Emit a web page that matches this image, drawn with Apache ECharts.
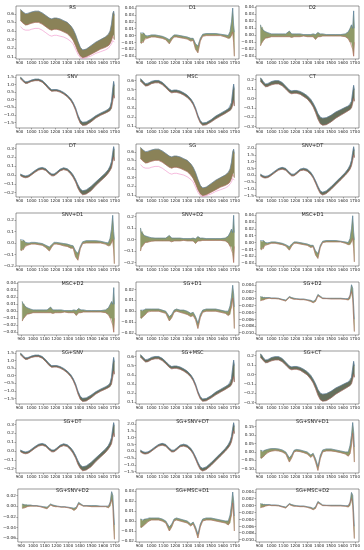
<!DOCTYPE html>
<html><head><meta charset="utf-8">
<script src="https://cdn.jsdelivr.net/npm/echarts@6/dist/echarts.min.js"></script>
<style>html,body{margin:0;padding:0;background:#fff}#c{width:364px;height:550px}</style>
</head><body><div id="c"></div>
<script>
// wavelength grid (nm)
const X = [908,915,922,930,940,950,965,980,1000,1030,1060,1090,1120,1150,1170,1190,1210,1240,1270,1300,1330,1350,1370,1390,1410,1430,1460,1500,1540,1580,1620,1645,1660,1672,1682,1690,1696];
const XTICKS = [900,1000,1100,1200,1300,1400,1500,1600,1700];

// ---- band envelopes ----
const RS_hi = [0.65,0.64,0.63,0.62,0.61,0.60,0.60,0.61,0.62,0.63,0.63,0.61,0.58,0.55,0.54,0.55,0.55,0.54,0.52,0.50,0.46,0.42,0.36,0.28,0.21,0.18,0.19,0.23,0.27,0.30,0.33,0.36,0.40,0.48,0.60,0.63,0.58];
const RS_lo = [0.52,0.51,0.50,0.49,0.48,0.47,0.47,0.48,0.49,0.50,0.50,0.48,0.45,0.42,0.41,0.42,0.42,0.41,0.39,0.37,0.33,0.29,0.23,0.16,0.11,0.09,0.10,0.13,0.16,0.19,0.21,0.23,0.25,0.29,0.34,0.36,0.30];
const RS_pink = [0.45,0.44,0.43,0.42,0.41,0.41,0.41,0.41,0.42,0.43,0.43,0.41,0.38,0.35,0.34,0.35,0.35,0.34,0.33,0.31,0.28,0.25,0.19,0.13,0.09,0.08,0.09,0.11,0.14,0.16,0.18,0.20,0.22,0.25,0.29,0.31,0.27];

const D1_hi = [0.004,0.003,0.002,0.004,0.003,0.0,-0.001,0.0,0.001,0.001,0.0,-0.001,-0.003,-0.006,-0.002,0.001,0.001,0.0,-0.001,-0.002,-0.004,-0.004,-0.012,-0.015,-0.004,0.002,0.003,0.003,0.003,0.002,0.001,0.0,0.006,0.02,0.04,0.015,0.005];
const D1_lo = [-0.01,-0.012,-0.008,-0.01,-0.006,-0.004,-0.004,-0.003,-0.002,-0.002,-0.003,-0.004,-0.006,-0.012,-0.006,-0.002,-0.002,-0.003,-0.004,-0.005,-0.008,-0.007,-0.02,-0.025,-0.008,-0.001,0.0,0.0,0.0,0.0,-0.002,-0.004,-0.004,0.0,0.005,-0.01,-0.03];

const D2_hi = [0.015,0.01,0.012,0.008,0.006,0.005,0.004,0.003,0.002,0.002,0.002,0.002,0.002,0.006,0.002,0.002,0.002,0.002,0.001,0.001,0.001,0.002,0.001,0.004,0.002,0.002,0.001,0.001,0.001,0.001,0.002,0.005,0.01,0.015,0.01,0.035,0.01];
const D2_lo = [-0.015,-0.012,-0.01,-0.008,-0.006,-0.004,-0.004,-0.003,-0.002,-0.002,-0.002,-0.002,-0.002,-0.002,-0.003,-0.002,-0.002,-0.002,-0.001,-0.002,-0.002,-0.002,-0.006,-0.002,-0.002,-0.001,-0.001,-0.001,-0.001,-0.001,-0.002,-0.005,-0.01,-0.01,-0.02,-0.03,-0.01];

const SNV_hi = [1.48,1.44,1.38,1.30,1.22,1.17,1.17,1.22,1.29,1.35,1.35,1.26,1.05,0.78,0.66,0.67,0.67,0.60,0.48,0.31,0.07,-0.18,-0.52,-1.0,-1.35,-1.48,-1.45,-1.27,-1.05,-0.88,-0.73,-0.62,-0.48,-0.1,0.7,1.2,0.9];
const SNV_lo = [1.35,1.32,1.28,1.20,1.12,1.07,1.07,1.13,1.2,1.25,1.25,1.15,0.92,0.66,0.55,0.57,0.57,0.5,0.37,0.2,-0.06,-0.32,-0.68,-1.18,-1.55,-1.68,-1.65,-1.45,-1.2,-1.02,-0.88,-0.78,-0.72,-0.55,-0.1,0.3,0.1];

const MSC_hi = [0.62,0.61,0.60,0.59,0.575,0.565,0.565,0.575,0.59,0.60,0.60,0.58,0.545,0.505,0.49,0.495,0.495,0.485,0.465,0.44,0.40,0.36,0.30,0.22,0.16,0.135,0.14,0.17,0.21,0.24,0.27,0.29,0.31,0.36,0.48,0.56,0.5];
const MSC_lo = [0.59,0.585,0.575,0.565,0.55,0.54,0.54,0.55,0.565,0.575,0.575,0.555,0.52,0.48,0.465,0.47,0.47,0.46,0.44,0.415,0.375,0.335,0.275,0.195,0.135,0.11,0.115,0.145,0.18,0.21,0.24,0.26,0.27,0.29,0.33,0.38,0.32];

const CT_hi = [0.22,0.21,0.20,0.18,0.165,0.155,0.155,0.165,0.18,0.19,0.19,0.17,0.13,0.09,0.08,0.085,0.085,0.075,0.055,0.03,-0.01,-0.05,-0.10,-0.16,-0.2,-0.21,-0.205,-0.18,-0.145,-0.12,-0.095,-0.08,-0.065,-0.03,0.07,0.14,0.09];
const CT_lo = [0.18,0.17,0.16,0.15,0.135,0.125,0.125,0.135,0.145,0.155,0.155,0.135,0.1,0.06,0.05,0.055,0.055,0.045,0.02,-0.005,-0.05,-0.09,-0.15,-0.22,-0.27,-0.285,-0.28,-0.25,-0.21,-0.18,-0.15,-0.13,-0.12,-0.1,-0.05,0.0,-0.03];

const DT_hi = [0.01,0.005,0.0,-0.005,-0.01,-0.012,-0.01,0.0,0.02,0.05,0.075,0.085,0.07,0.03,0.01,0.01,0.03,0.065,0.08,0.07,0.035,0.0,-0.05,-0.11,-0.16,-0.18,-0.17,-0.13,-0.08,-0.03,0.02,0.06,0.1,0.15,0.25,0.32,0.28];
const DT_lo = [-0.01,-0.015,-0.02,-0.025,-0.03,-0.032,-0.03,-0.02,0.0,0.03,0.055,0.065,0.05,0.01,-0.01,-0.01,0.01,0.045,0.06,0.05,0.01,-0.03,-0.08,-0.15,-0.2,-0.225,-0.215,-0.18,-0.12,-0.07,-0.02,0.02,0.05,0.08,0.15,0.2,0.16];

const SNVDT_hi = [0.08,0.04,0.0,-0.04,-0.07,-0.08,-0.07,0.0,0.12,0.32,0.5,0.58,0.5,0.22,0.08,0.08,0.22,0.45,0.52,0.45,0.22,-0.05,-0.4,-0.8,-1.15,-1.25,-1.15,-0.85,-0.5,-0.15,0.2,0.5,0.75,1.1,1.7,2.1,1.8];
const SNVDT_lo = [-0.06,-0.1,-0.13,-0.17,-0.2,-0.2,-0.19,-0.12,0.0,0.2,0.38,0.45,0.36,0.1,-0.05,-0.04,0.1,0.33,0.38,0.3,0.05,-0.2,-0.58,-1.0,-1.35,-1.45,-1.35,-1.05,-0.7,-0.35,0.0,0.25,0.45,0.7,1.1,1.5,1.3];

const SNVD1_hi = [0.03,0.02,0.015,0.025,0.02,0.005,0.0,0.0,0.005,0.005,0.0,-0.005,-0.02,-0.035,-0.015,0.005,0.005,0.0,-0.005,-0.01,-0.02,-0.025,-0.07,-0.09,-0.03,0.01,0.02,0.02,0.02,0.015,0.005,0.0,0.04,0.12,0.24,0.1,0.03];
const SNVD1_lo = [-0.06,-0.07,-0.05,-0.06,-0.04,-0.025,-0.02,-0.015,-0.01,-0.01,-0.015,-0.02,-0.04,-0.07,-0.035,-0.01,-0.01,-0.015,-0.025,-0.03,-0.045,-0.045,-0.12,-0.15,-0.05,-0.005,0.0,0.0,0.0,0.0,-0.01,-0.025,-0.025,0.0,0.03,-0.06,-0.18];

const SNVD2_hi = [0.1,0.06,0.07,0.05,0.035,0.03,0.025,0.02,0.015,0.012,0.012,0.012,0.012,0.035,0.012,0.012,0.012,0.012,0.008,0.008,0.008,0.012,0.006,0.025,0.012,0.012,0.008,0.008,0.008,0.008,0.012,0.03,0.06,0.09,0.06,0.21,0.06];
const SNVD2_lo = [-0.1,-0.07,-0.06,-0.05,-0.035,-0.025,-0.025,-0.02,-0.015,-0.012,-0.012,-0.012,-0.012,-0.012,-0.02,-0.012,-0.012,-0.012,-0.008,-0.012,-0.012,-0.012,-0.035,-0.012,-0.012,-0.008,-0.008,-0.008,-0.008,-0.008,-0.012,-0.03,-0.06,-0.06,-0.12,-0.2,-0.06];

const MSCD1_hi = [0.003,0.002,0.001,0.003,0.002,0.0,-0.001,0.0,0.001,0.001,0.0,-0.001,-0.003,-0.006,-0.002,0.001,0.001,0.0,-0.001,-0.002,-0.004,-0.004,-0.012,-0.016,-0.004,0.002,0.003,0.003,0.003,0.002,0.001,0.0,0.006,0.02,0.039,0.015,0.004];
const MSCD1_lo = [-0.009,-0.011,-0.007,-0.009,-0.005,-0.003,-0.003,-0.002,-0.001,-0.001,-0.002,-0.003,-0.005,-0.011,-0.005,-0.001,-0.001,-0.002,-0.003,-0.004,-0.007,-0.006,-0.018,-0.023,-0.007,0.0,0.001,0.001,0.001,0.001,-0.001,-0.003,-0.003,0.001,0.006,-0.008,-0.028];

const MSCD2_hi = [0.014,0.01,0.011,0.008,0.006,0.005,0.004,0.003,0.002,0.002,0.002,0.002,0.002,0.006,0.002,0.002,0.002,0.002,0.001,0.001,0.001,0.002,0.001,0.004,0.002,0.002,0.001,0.001,0.001,0.001,0.002,0.005,0.01,0.014,0.01,0.034,0.01];
const MSCD2_lo = [-0.014,-0.011,-0.01,-0.008,-0.006,-0.004,-0.004,-0.003,-0.002,-0.002,-0.002,-0.002,-0.002,-0.002,-0.003,-0.002,-0.002,-0.002,-0.001,-0.002,-0.002,-0.002,-0.006,-0.002,-0.002,-0.001,-0.001,-0.001,-0.001,-0.001,-0.002,-0.005,-0.01,-0.01,-0.02,-0.03,-0.01];

const SGD1_hi = [0.001,0.001,0.0,0.001,0.001,0.002,0.002,0.002,0.002,0.002,0.002,0.001,0.0,-0.005,-0.003,0.001,0.002,0.001,0.001,0.0,-0.002,-0.001,-0.005,-0.011,-0.003,0.001,0.002,0.002,0.002,0.001,0.0,0.0,0.005,0.013,0.024,0.016,0.004];
const SGD1_lo = [-0.006,-0.007,-0.006,-0.005,-0.004,-0.003,-0.001,0.0,0.0,0.0,0.0,-0.001,-0.002,-0.009,-0.006,-0.001,0.0,-0.001,-0.002,-0.003,-0.005,-0.004,-0.008,-0.016,-0.006,-0.001,0.0,0.0,0.0,-0.001,-0.002,-0.004,-0.003,0.004,0.012,0.0,-0.016];

const SGD2_hi = [0.0006,0.0004,0.0006,0.0003,0.0004,0.0003,0.0003,0.0003,0.0002,0.0002,0.0001,-0.0002,-0.0004,0.0006,0.0003,0.0001,0.0,-0.0001,-0.0001,-0.0003,-0.0005,-0.0008,-0.0003,0.0012,0.0007,0.0002,0.0001,0.0001,0.0001,0.0001,0.0,0.0,0.001,0.004,0.003,-0.002,-0.006];
const SGD2_lo = [-0.0006,-0.0005,-0.0004,-0.0004,-0.0003,-0.0001,0.0,0.0001,0.0,0.0,-0.0001,-0.0004,-0.0007,0.0003,0.0,-0.0002,-0.0002,-0.0003,-0.0003,-0.0005,-0.0008,-0.0012,-0.0008,0.0008,0.0004,0.0,0.0,-0.0001,-0.0001,-0.0001,-0.0002,-0.0004,0.0,0.002,0.0,-0.006,-0.0095];

const SGSNVD1_hi = [0.01,0.01,0.0,0.005,0.01,0.012,0.015,0.018,0.02,0.02,0.018,0.012,0.0,-0.035,-0.018,0.01,0.015,0.012,0.006,0.0,-0.018,-0.008,-0.04,-0.085,-0.02,0.012,0.018,0.018,0.012,0.006,0.0,0.0,0.04,0.1,0.175,0.12,0.03];
const SGSNVD1_lo = [-0.035,-0.04,-0.035,-0.03,-0.022,-0.015,-0.005,0.0,0.005,0.008,0.006,0.0,-0.012,-0.06,-0.035,0.0,0.005,0.002,-0.004,-0.012,-0.032,-0.02,-0.06,-0.11,-0.04,0.0,0.006,0.006,0.002,-0.004,-0.012,-0.025,-0.01,0.04,0.11,0.03,-0.06];

const SGSNVD2_hi = [0.004,0.003,0.004,0.002,0.003,0.002,0.002,0.002,0.001,0.001,0.0,-0.001,-0.002,0.004,0.002,0.001,0.0,-0.001,-0.001,-0.002,-0.003,-0.004,-0.002,0.007,0.004,0.001,0.001,0.001,0.001,0.0,0.0,0.0,0.008,0.027,0.02,-0.012,-0.035];
const SGSNVD2_lo = [-0.004,-0.004,-0.003,-0.003,-0.002,-0.001,0.0,0.0,0.0,0.0,-0.001,-0.003,-0.005,0.002,0.0,-0.001,-0.001,-0.002,-0.002,-0.003,-0.005,-0.008,-0.005,0.004,0.002,0.0,0.0,-0.001,-0.001,-0.001,-0.001,-0.003,0.0,0.012,0.0,-0.04,-0.062];

const SGMSCD1_hi = [0.002,0.002,0.0,0.001,0.002,0.002,0.002,0.003,0.003,0.003,0.003,0.002,0.0,-0.006,-0.003,0.002,0.003,0.002,0.001,0.0,-0.003,-0.001,-0.006,-0.013,-0.003,0.002,0.003,0.003,0.002,0.001,0.0,0.0,0.006,0.016,0.029,0.02,0.005];
const SGMSCD1_lo = [-0.006,-0.007,-0.006,-0.005,-0.004,-0.003,-0.001,0.0,0.001,0.001,0.001,0.0,-0.002,-0.01,-0.006,0.0,0.001,0.0,-0.001,-0.002,-0.005,-0.003,-0.009,-0.017,-0.006,0.0,0.001,0.001,0.0,-0.001,-0.002,-0.004,-0.002,0.006,0.018,0.005,-0.01];

const SGMSCD2_hi = [0.0006,0.0004,0.0006,0.0003,0.0004,0.0003,0.0003,0.0003,0.0002,0.0002,0.0001,-0.0002,-0.0004,0.0006,0.0003,0.0001,0.0,-0.0001,-0.0001,-0.0003,-0.0005,-0.0008,-0.0003,0.0012,0.0007,0.0002,0.0001,0.0001,0.0001,0.0001,0.0,0.0,0.001,0.0038,0.003,-0.002,-0.006];
const SGMSCD2_lo = [-0.0006,-0.0005,-0.0004,-0.0004,-0.0003,-0.0001,0.0,0.0001,0.0,0.0,-0.0001,-0.0004,-0.0007,0.0003,0.0,-0.0002,-0.0002,-0.0003,-0.0003,-0.0005,-0.0008,-0.0012,-0.0008,0.0008,0.0004,0.0,0.0,-0.0001,-0.0001,-0.0001,-0.0002,-0.0004,0.0,0.002,0.0,-0.006,-0.0095];

// ---- y tick values ----
const T_R = [0.1,0.2,0.3,0.4,0.5,0.6];
const T_D = [-0.03,-0.02,-0.01,0.0,0.01,0.02,0.03,0.04];
const T_SNV = [-1.5,-1.0,-0.5,0.0,0.5,1.0,1.5];
const T_CT = [-0.3,-0.2,-0.1,0.0,0.1,0.2];
const T_DT = [-0.2,-0.1,0.0,0.1,0.2,0.3];
const T_SNVDT = [-1.5,-1.0,-0.5,0.0,0.5,1.0,1.5,2.0];
const T_SNVD = [-0.2,-0.1,0.0,0.1,0.2];
const T_SGD1 = [-0.02,-0.01,0.0,0.01,0.02];
const T_SGD2 = [-0.010,-0.008,-0.006,-0.004,-0.002,0.0,0.002,0.004];
const T_SGSNVD1 = [-0.10,-0.05,0.0,0.05,0.10,0.15];
const T_SGSNVD2 = [-0.06,-0.04,-0.02,0.0,0.02];
const T_SGMSCD1 = [-0.02,-0.01,0.0,0.01,0.02,0.03];

const TITLES = ['RS','D1','D2','SNV','MSC','CT','DT','SG','SNV+DT','SNV+D1','SNV+D2','MSC+D1','MSC+D2','SG+D1','SG+D2','SG+SNV','SG+MSC','SG+CT','SG+DT','SG+SNV+DT','SG+SNV+D1','SG+SNV+D2','SG+MSC+D1','SG+MSC+D2'];

const WIDE = '#8a8258', NARROW = '#66705c', DER = '#8f9a68';
const P = [
 {hi:RS_hi,lo:RS_lo,ex:[RS_pink],r:[0.075,0.69],t:T_R,d:1,f:WIDE},
 {hi:D1_hi,lo:D1_lo,r:[-0.034,0.043],t:T_D,d:2,f:DER},
 {hi:D2_hi,lo:D2_lo,r:[-0.034,0.042],t:T_D,d:2,f:DER},
 {hi:SNV_hi,lo:SNV_lo,r:[-1.85,1.62],t:T_SNV,d:1,f:NARROW},
 {hi:MSC_hi,lo:MSC_lo,r:[0.08,0.66],t:T_R,d:1,f:NARROW},
 {hi:CT_hi,lo:CT_lo,r:[-0.315,0.25],t:T_CT,d:1,f:NARROW},
 {hi:DT_hi,lo:DT_lo,r:[-0.25,0.35],t:T_DT,d:1,f:NARROW},
 {hi:RS_hi,lo:RS_lo,ex:[RS_pink],r:[0.075,0.69],t:T_R,d:1,f:WIDE},
 {hi:SNVDT_hi,lo:SNVDT_lo,r:[-1.6,2.3],t:T_SNVDT,d:1,f:NARROW},
 {hi:SNVD1_hi,lo:SNVD1_lo,r:[-0.2,0.26],t:T_SNVD,d:1,f:DER},
 {hi:SNVD2_hi,lo:SNVD2_lo,r:[-0.23,0.23],t:T_SNVD,d:1,f:DER},
 {hi:MSCD1_hi,lo:MSCD1_lo,r:[-0.034,0.043],t:T_D,d:2,f:DER},
 {hi:MSCD2_hi,lo:MSCD2_lo,r:[-0.034,0.042],t:T_D,d:2,f:DER},
 {hi:SGD1_hi,lo:SGD1_lo,r:[-0.022,0.027],t:T_SGD1,d:2,f:DER},
 {hi:SGD2_hi,lo:SGD2_lo,r:[-0.0105,0.0048],t:T_SGD2,d:3,f:DER},
 {hi:SNV_hi,lo:SNV_lo,r:[-1.85,1.62],t:T_SNV,d:1,f:NARROW},
 {hi:MSC_hi,lo:MSC_lo,r:[0.08,0.66],t:T_R,d:1,f:NARROW},
 {hi:CT_hi,lo:CT_lo,r:[-0.315,0.25],t:T_CT,d:1,f:NARROW},
 {hi:DT_hi,lo:DT_lo,r:[-0.25,0.35],t:T_DT,d:1,f:NARROW},
 {hi:SNVDT_hi,lo:SNVDT_lo,r:[-1.6,2.3],t:T_SNVDT,d:1,f:NARROW},
 {hi:SGSNVD1_hi,lo:SGSNVD1_lo,r:[-0.125,0.19],t:T_SGSNVD1,d:2,f:DER},
 {hi:SGSNVD2_hi,lo:SGSNVD2_lo,r:[-0.067,0.032],t:T_SGSNVD2,d:2,f:DER},
 {hi:SGMSCD1_hi,lo:SGMSCD1_lo,r:[-0.021,0.032],t:T_SGMSCD1,d:2,f:DER},
 {hi:SGMSCD2_hi,lo:SGMSCD2_lo,r:[-0.0105,0.0048],t:T_SGD2,d:3,f:DER}
];

const chart = echarts.init(document.getElementById('c'), null, {renderer:'canvas'});
const grids=[], xAxes=[], yAxes=[], series=[], titles=[];
const FONT = 'DejaVu Sans';
function fmt(v,d){ const s=Math.abs(v).toFixed(d); return (v<-1e-12?'\u2212':'')+s; }
function band(hi,lo,color){
  return function(params, api){
    const pts=[];
    for(let i=0;i<X.length;i++) pts.push(api.coord([X[i],hi[i]]));
    for(let i=X.length-1;i>=0;i--) pts.push(api.coord([X[i],lo[i]]));
    return {type:'polygon', shape:{points:pts}, style:{fill:color, stroke:color, lineWidth:0.4}};
  };
}
P.forEach((p,i)=>{
  const r=Math.floor(i/3), c=i%3;
  const left=16+120*c, top=6+69*r, w=103, h=53;
  grids.push({left:left, top:top, width:w, height:h, show:true, borderColor:'#555', borderWidth:0.6, backgroundColor:'transparent'});
  titles.push({text:TITLES[i], left:left+w/2, top:top-6, textAlign:'center', textStyle:{fontSize:5, fontWeight:'normal', color:'#222', fontFamily:FONT}});
  xAxes.push({type:'value', gridIndex:i, min:870, max:1735, axisLine:{show:false, onZero:false}, splitLine:{show:false},
    axisTick:{show:true, length:1.5, lineStyle:{color:'#555', width:0.5}, customValues:XTICKS},
    axisLabel:{fontSize:4, color:'#222', margin:2, fontFamily:FONT, customValues:XTICKS, formatter:v=>String(v)}});
  yAxes.push({type:'value', gridIndex:i, min:p.r[0], max:p.r[1], axisLine:{show:false, onZero:false}, splitLine:{show:false},
    axisTick:{show:true, length:1.5, lineStyle:{color:'#555', width:0.5}, customValues:p.t},
    axisLabel:{fontSize:4.2, color:'#222', margin:2, fontFamily:FONT, customValues:p.t, formatter:v=>fmt(v,p.d)}});
  series.push({type:'custom', xAxisIndex:i, yAxisIndex:i, data:[[X[0],p.lo[0]]], renderItem:band(p.hi,p.lo,p.f), silent:true, z:1});
  series.push({type:'line', xAxisIndex:i, yAxisIndex:i, data:X.map((x,k)=>[x,p.hi[k]]), showSymbol:false, lineStyle:{width:0.5, color:'#4a78a8'}, z:3, silent:true});
  series.push({type:'line', xAxisIndex:i, yAxisIndex:i, data:X.map((x,k)=>[x,p.lo[k]]), showSymbol:false, lineStyle:{width:0.5, color:'#b8605a'}, z:3, silent:true});
  (p.ex||[]).forEach(a=>series.push({type:'line', xAxisIndex:i, yAxisIndex:i, data:X.map((x,k)=>[x,a[k]]), showSymbol:false, lineStyle:{width:0.6, color:'#f08fc8'}, z:3, silent:true}));
});
chart.setOption({animation:false, backgroundColor:'#fff', title:titles, grid:grids, xAxis:xAxes, yAxis:yAxes, series:series});
</script></body></html>
